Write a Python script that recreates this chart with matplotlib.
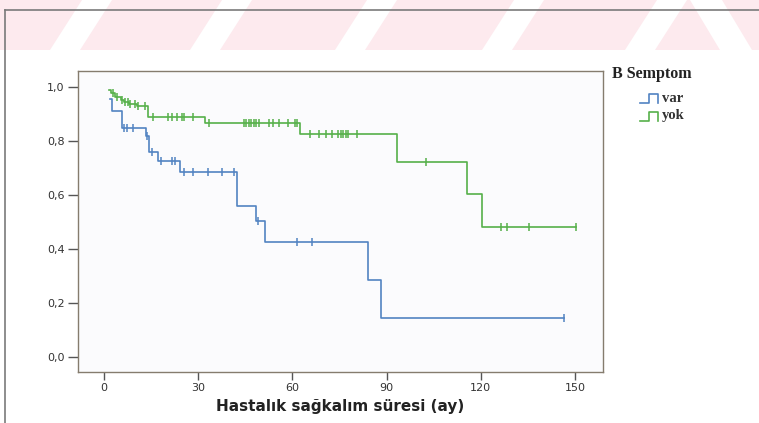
import numpy as np
import matplotlib
matplotlib.use("Agg")
import matplotlib.pyplot as plt
from matplotlib.lines import Line2D
from matplotlib.patches import Polygon, Rectangle

# Kaplan-Meier step data: event times and survival after each step
var_times = [1.9, 2.6, 5.6, 13.3, 14.3, 17.3, 24.2, 42.3, 48.4, 51.3, 84.2, 88.2]
var_surv = [0.955, 0.91, 0.848, 0.818, 0.758, 0.727, 0.684, 0.559, 0.504, 0.427, 0.285, 0.143]
var_end = 146.5
var_censored = [6.5, 7.2, 9.3, 13.6, 15.2, 18.2, 21.5, 22.5, 25.3, 28.4, 33.2, 37.5,
                 41.4, 49.1, 61.4, 66.3, 146.5]

yok_times = [1.5, 2.2, 3.5, 5.3, 6.3, 8.0, 10.5, 14.1, 32.2, 62.5, 93.4, 115.5, 120.5]
yok_surv = [0.99, 0.976, 0.964, 0.952, 0.946, 0.937, 0.931, 0.889, 0.866, 0.826,
            0.723, 0.602, 0.482]
yok_end = 150.3
yok_censored = [3.0, 4.0, 5.6, 6.7, 7.5, 8.3, 9.9, 10.9, 13.1, 15.7, 20.3, 21.7, 23.1,
                24.9, 25.5, 28.4, 33.5, 44.5, 45.3, 46.1, 46.9, 47.7, 48.5, 49.3, 52.6,
                53.7, 55.8, 58.7, 60.8, 61.3, 65.6, 68.6, 70.7, 72.5, 74.6, 75.3, 76.2,
                77.1, 77.8, 80.7, 102.5, 126.3, 128.2, 135.4, 150.3]

x_ticks = [0, 30, 60, 90, 120, 150]
y_ticks = [0.0, 0.2, 0.4, 0.6, 0.8, 1.0]
y_tick_labels = ["0,0", "0,2", "0,4", "0,6", "0,8", "1,0"]

group_names = ["var", "yok"]
legend_title = "B Semptom"
x_label = "Hastalık sağkalım süresi (ay)"

BLUE = "#5283c2"
GREEN = "#56b04a"

W, H = 759, 423
fig = plt.figure(figsize=(W / 100, H / 100), dpi=100)
fig.patch.set_facecolor("white")


def px(x, y):
    """pixel (from top-left) -> figure fraction"""
    return (x / W, 1 - y / H)


# faint pink banner with diagonal white bands across the top
fig.patches.append(Rectangle(px(0, 50), 1, 50 / H, transform=fig.transFigure,
                             facecolor="#fdeaee", edgecolor="none", zorder=-2))
for x0 in [50, 190, 335, 482, 625]:
    pts = [px(x0, 50), px(x0 + 30, 50), px(x0 + 62, 0), px(x0 + 32, 0)]
    fig.patches.append(Polygon(pts, closed=True, transform=fig.transFigure,
                               facecolor="white", edgecolor="none", zorder=-1))
pts = [px(690, 0), px(722, 0), px(752, 50), px(720, 50)]
fig.patches.append(Polygon(pts, closed=True, transform=fig.transFigure,
                           facecolor="white", edgecolor="none", zorder=-1))

# outer frame lines
fig.add_artist(Line2D([5 / W, 1], [1 - 10 / H] * 2, transform=fig.transFigure,
                      color="#7a7a7a", lw=1.2))
fig.add_artist(Line2D([5 / W] * 2, [0, 1 - 10 / H], transform=fig.transFigure,
                      color="#7a7a7a", lw=1.2))

left, right, top, bottom = 78, 603, 71, 372
ax = fig.add_axes([left / W, 1 - bottom / H, (right - left) / W, (bottom - top) / H])
ax.set_zorder(5)
ax.set_facecolor("#fbfbfd")


def draw_curve(times, surv, end, censored, color):
    t = np.array(list(times) + [end])
    s = np.array(list(surv) + [surv[-1]])
    ax.step(t, s, where="post", color=color, lw=1.2, zorder=3)
    idx = np.searchsorted(np.array(times), np.array(censored), side="right") - 1
    cs = np.array(surv)[np.clip(idx, 0, None)]
    ax.plot(censored, cs, linestyle="none", marker="|", ms=5.5, mew=1.1,
            color=color, zorder=4)


draw_curve(var_times, var_surv, var_end, var_censored, BLUE)
draw_curve(yok_times, yok_surv, yok_end, yok_censored, GREEN)

ax.set_xlim(-8.3, 158.9)
ax.set_ylim(-0.056, 1.059)
ax.set_xticks(x_ticks)
ax.set_yticks(y_ticks)
ax.set_yticklabels(y_tick_labels)
for sp in ax.spines.values():
    sp.set_color("#857c6e")
    sp.set_linewidth(1.0)
ax.tick_params(axis="y", direction="out", length=7.5, width=1.0, color="#555555",
               labelsize=8, labelcolor="#333333", pad=2)
ax.tick_params(axis="x", direction="out", length=6, width=1.0, color="#555555",
               labelsize=8, labelcolor="#333333", pad=2)
ax.set_xlabel(x_label, fontsize=11, fontweight="bold", color="#222222", labelpad=4)

# legend with step-shaped keys
fig.text(612 / W, 1 - 74 / H, legend_title, family="Liberation Serif",
         fontweight="bold", fontsize=11.5, color="#222222", va="center", ha="left")
for i, (name, col) in enumerate(zip(group_names, [BLUE, GREEN])):
    yb = 103 + 18 * i
    xs = [640, 649, 649, 658, 658]
    ys = [yb, yb, yb - 9, yb - 9, yb]
    fig.add_artist(Line2D([x / W for x in xs], [1 - y / H for y in ys],
                          transform=fig.transFigure, color=col, lw=1.2))
    fig.text(662 / W, 1 - (yb - 5) / H, name, family="Liberation Serif",
             fontweight="bold", fontsize=10.5, color="#333333", va="center", ha="left")

fig.savefig("out.png", dpi=100)
